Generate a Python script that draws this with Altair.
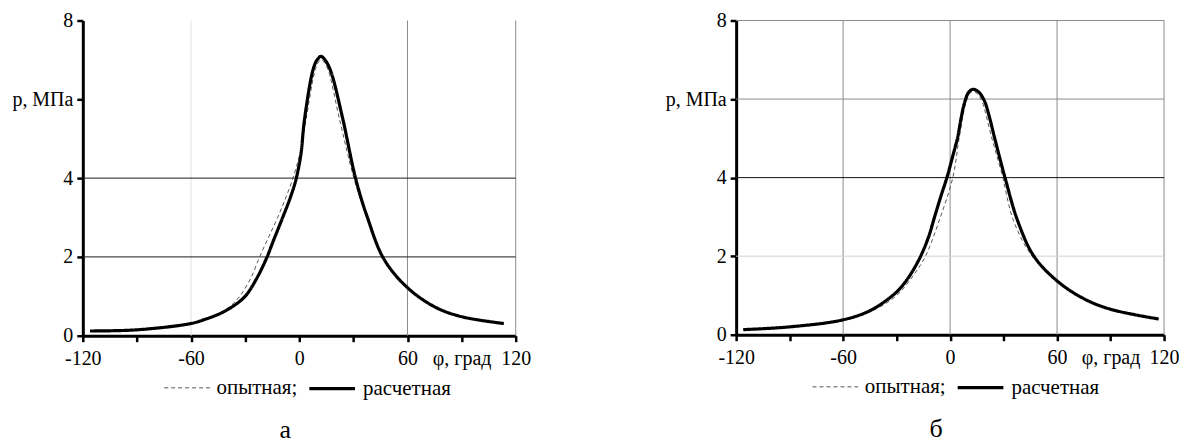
import json
import altair as alt
import pandas as pd

# ---------------- data ----------------
series_names = ["опытная;", "расчетная"]

# panel а
a_exp_phi = [-116, -90, -60, -50, -44, -38, -33, -27, -22, -17, -12, -7.5, -3.5, 0.5, 3.8, 8.3, 10.3, 12.0, 14.0, 16.3, 22.3, 30.3, 37.5, 47, 60, 75.5, 90, 113.4]
a_exp_p = [0.12, 0.16, 0.33, 0.46, 0.58, 0.76, 1.0, 1.45, 2.0, 2.5, 3.0, 3.5, 4.0, 4.65, 5.5, 6.65, 6.92, 7.0, 6.93, 6.7, 5.5, 4.0, 3.0, 1.96, 1.24, 0.74, 0.49, 0.31]
a_calc_phi = [-116, -90, -60, -52, -44, -37, -30, -24, -18.4, -14, -9.2, -5, -1.8, 0.9, 2.8, 7.4, 9.6, 12.0, 14.6, 17.5, 24.0, 31.3, 37.8, 47, 60, 75.6, 90.3, 113.4]
a_calc_p = [0.12, 0.15, 0.31, 0.42, 0.56, 0.74, 1.0, 1.42, 1.94, 2.45, 3.0, 3.5, 3.97, 4.6, 5.45, 6.71, 6.98, 7.09, 6.98, 6.71, 5.53, 3.98, 3.0, 1.94, 1.22, 0.72, 0.48, 0.31]

# panel б
b_exp_phi = [-116, -90, -60, -44, -30, -20, -13.8, -5.4, 1.5, 5.2, 8.8, 11.0, 13.0, 15.3, 17.8, 23.2, 29.0, 35.6, 46, 60, 75, 90, 117]
b_exp_p = [0.13, 0.2, 0.36, 0.6, 1.0, 1.55, 2.0, 3.0, 4.0, 5.04, 5.9, 6.14, 6.2, 6.13, 5.95, 5.04, 4.1, 2.9, 2.0, 1.37, 0.92, 0.65, 0.4]
b_calc_phi = [-116, -90, -60, -44.2, -30.2, -25, -20, -16, -12, -8.7, -5.0, -1.8, 1.5, 4.3, 6.2, 8.0, 10.5, 13.0, 16.0, 19.2, 22.0, 24.8, 30.8, 37.9, 47, 60, 74.9, 89.9, 117]
b_calc_p = [0.13, 0.2, 0.38, 0.63, 1.08, 1.35, 1.7, 2.05, 2.5, 3.0, 3.55, 4.0, 4.55, 5.04, 5.52, 5.89, 6.18, 6.25, 6.18, 5.96, 5.55, 5.04, 4.0, 2.9, 2.0, 1.37, 0.92, 0.65, 0.4]

# axes
x_tick_values = [-120, -90, -60, -30, 0, 30, 60, 90, 120]
x_tick_labels = ["-120", "", "-60", "", "0", "", "60", "φ, град", "120"]
y_tick_values = [0, 1, 2, 3, 4, 5, 6, 7, 8]
y_tick_labels = ["0", "", "2", "", "4", "", "p, МПа", "", "8"]

# grid lines of each panel
a_grid_v_light = [-60]
a_grid_v_mid = [60, 120]
a_grid_h_dark = [2, 4]
b_grid_v_mid = [-60, 0, 60, 120]
b_grid_h_light = [2]
b_grid_h_dark = [4]
b_grid_h_mid = [6, 8]

panel_letters = ["а", "б"]

# ---------------- chart ----------------
FONT = "Liberation Serif"


def label_expr(values, labels):
    return "{}[indexof({}, datum.value)]".format(
        json.dumps(labels, ensure_ascii=False), json.dumps(values)
    )


def axis(values, labels, pad):
    return alt.Axis(
        values=values,
        labelExpr=label_expr(values, labels),
        title=None,
        grid=False,
        domainColor="#000000",
        domainWidth=3,
        tickColor="#000000",
        tickWidth=2.5,
        tickSize=6,
        labelFont=FONT,
        labelFontSize=20,
        labelColor="#000000",
        labelPadding=pad,
        labelFlush=False,
        labelOverlap=False,
    )


def rules(values, channel, color, width=1.0):
    df = pd.DataFrame({"v": values})
    enc = {channel: alt.X("v:Q") if channel == "x" else alt.Y("v:Q")}
    return alt.Chart(df).mark_rule(color=color, strokeWidth=width).encode(**enc)


def panel(exp_phi, exp_p, calc_phi, calc_p, letter, width, height, grid_layers, legend_x):
    df = pd.concat(
        [
            pd.DataFrame({"phi": exp_phi, "p": exp_p, "series": series_names[0]}),
            pd.DataFrame({"phi": calc_phi, "p": calc_p, "series": series_names[1]}),
        ],
        ignore_index=True,
    )
    x = alt.X("phi:Q", scale=alt.Scale(domain=[-120, 120], nice=False, zero=False),
              axis=axis(x_tick_values, x_tick_labels, 7))
    y = alt.Y("p:Q", scale=alt.Scale(domain=[0, 8], nice=False),
              axis=axis(y_tick_values, y_tick_labels, 4))
    leg = alt.Legend(
        orient="none",
        legendX=legend_x,
        legendY=height + 28,
        direction="horizontal",
        title=None,
        symbolType="stroke",
        symbolSize=2100,
        labelOffset=6,
        columnPadding=4,
        labelFont=FONT,
        labelFontSize=21,
        labelColor="#000000",
    )
    lines = alt.Chart(df).mark_line(interpolate="catmull-rom").encode(
        x=x,
        y=y,
        color=alt.Color("series:N", scale=alt.Scale(domain=series_names, range=["#555555", "#000000"]), legend=leg),
        strokeDash=alt.StrokeDash("series:N", scale=alt.Scale(domain=series_names, range=[[4, 3], [1, 0]]), legend=leg),
        strokeWidth=alt.StrokeWidth("series:N", scale=alt.Scale(domain=series_names, range=[1.0, 3.2]), legend=leg),
    )
    layers = [rules(v, ch, c) for (v, ch, c) in grid_layers] + [lines]
    return alt.layer(*layers).properties(
        width=width,
        height=height,
        title=alt.TitleParams(
            text=letter,
            orient="bottom",
            anchor="middle",
            frame="group",
            font=FONT,
            fontSize=26,
            fontWeight="normal",
            color="#000000",
            dx=-14,
            offset=19,
        ),
    )


left = panel(
    a_exp_phi, a_exp_p, a_calc_phi, a_calc_p, panel_letters[0], 434, 316,
    [(a_grid_v_light, "x", "#e2e2e2"), (a_grid_v_mid, "x", "#8c8c8c"), (a_grid_h_dark, "y", "#1a1a1a")],
    81,
)
right = panel(
    b_exp_phi, b_exp_p, b_calc_phi, b_calc_p, panel_letters[1], 429, 315,
    [(b_grid_v_mid, "x", "#8c8c8c"), (b_grid_h_light, "y", "#d2d2d2"),
     (b_grid_h_mid, "y", "#8c8c8c"), (b_grid_h_dark, "y", "#111111")],
    76,
)

chart = (
    alt.hconcat(left, right, spacing=134)
    .resolve_scale(color="independent", strokeDash="independent", strokeWidth="independent")
    .resolve_legend(color="independent", strokeDash="independent", strokeWidth="independent")
    .properties(background="#ffffff", padding={"left": 3, "top": 2, "right": 5, "bottom": 0})
    .configure_view(stroke=None)
    .configure_legend(labelFont=FONT, labelFontSize=21, labelColor="#000000")
)

chart.save("out.html", embed_options={"renderer": "svg", "actions": False})
